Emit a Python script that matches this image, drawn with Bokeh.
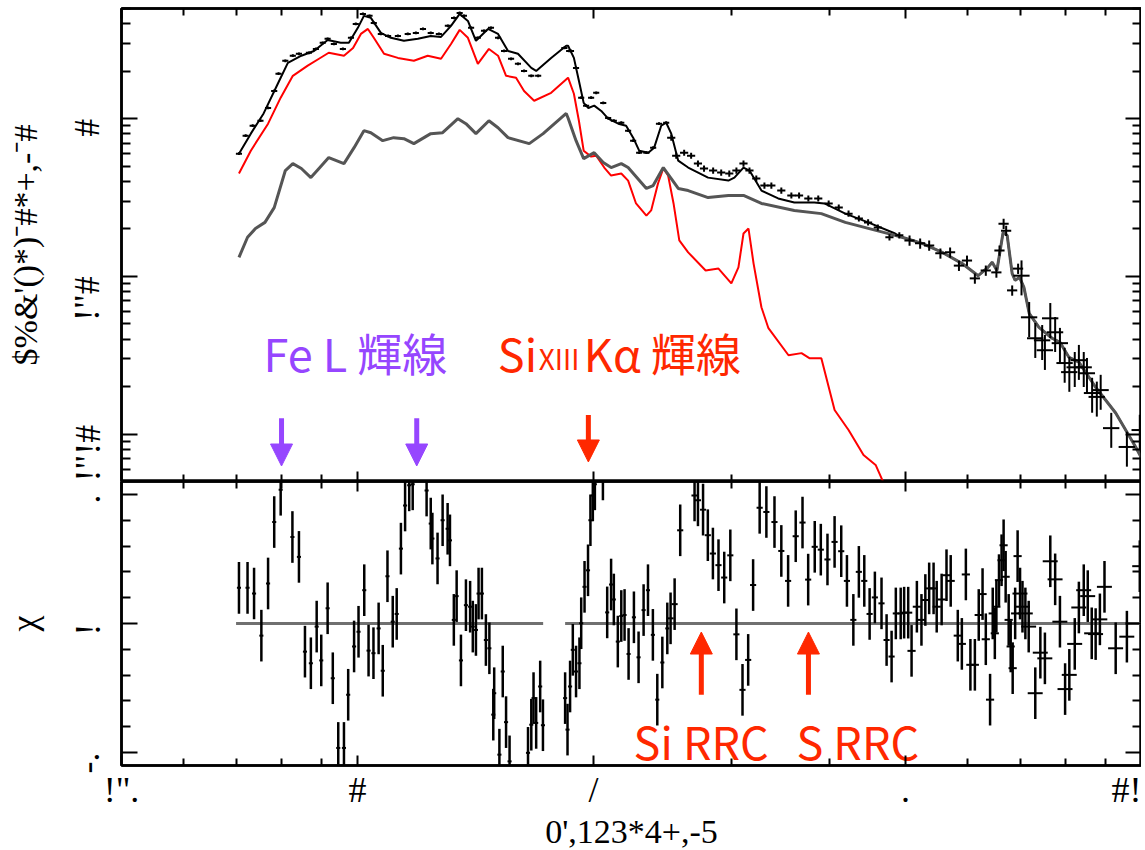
import numpy as np
from bokeh.plotting import figure
from bokeh.layouts import column
from bokeh.models import (FixedTicker, LogAxis, LinearAxis, Range1d, Arrow,
                          NormalHead, CustomJSTickFormatter)
from bokeh.core.properties import value
from bokeh.embed import file_html
from bokeh.resources import INLINE

SERIF = "Liberation Serif"
SANS = "Noto Sans CJK JP"
PURPLE = "#9646FF"
ORANGE = "#FF2800"

# ---------------- data (energy keV, flux) ----------------
total_soft = [(0.706,0.600),(0.731,0.804),(0.759,1.08),(0.791,1.66),(0.815,2.26),(0.848,2.51),
    (0.880,2.69),(0.916,3.16),(0.952,3.03),(0.975,3.03),(1.001,3.77),(1.019,4.49),(1.040,4.36),
    (1.071,3.50),(1.103,3.26),(1.146,3.12),(1.194,3.21),(1.240,3.35),(1.278,3.30),(1.316,3.88),
    (1.350,4.62),(1.383,4.17),(1.416,3.12),(1.467,3.71),(1.511,3.45),(1.556,2.69),(1.602,2.58),
    (1.666,2.10),(1.690,2.01),(1.766,2.43),(1.846,2.90),(1.856,2.90),(1.888,2.43),(1.916,1.74),
    (1.943,1.26),(1.970,1.17),(2.004,1.21),(2.046,1.12),(2.088,1.00),(2.151,0.930),(2.201,0.903),
    (2.247,0.758),(2.287,0.627),(2.349,0.609),(2.390,0.655),(2.440,0.903),(2.476,0.943),
    (2.513,0.804),(2.565,0.542),(2.641,0.490),(2.800,0.423),(2.972,0.405),(3.025,0.423),
    (3.107,0.490),(3.162,0.469),(3.275,0.350),(3.440,0.312),(3.607,0.294),(3.826,0.294),
    (3.940,0.290),(4.190,0.250),(4.480,0.220),(4.850,0.187)]

hard_shared = [(4.95,0.177),(5.25,0.162),(5.57,0.142),(5.90,0.121),(6.19,0.101),(6.37,0.114),
    (6.45,0.123),(6.54,0.109),(6.66,0.190),(6.74,0.182),(6.84,0.104),(6.90,0.0943),(6.99,0.0986),
    (7.08,0.0852),(7.19,0.0583),(7.40,0.0475),(7.69,0.0405),(7.87,0.0382),(8.08,0.0307),
    (8.32,0.0286),(8.74,0.0198),(9.27,0.0136),(9.83,0.00828),(10.0,0.00705)]

background_soft = [(0.706,0.132),(0.724,0.177),(0.741,0.201),(0.762,0.220),(0.783,0.273),
    (0.809,0.469),(0.827,0.519),(0.848,0.483),(0.872,0.423),(0.893,0.483),(0.919,0.567),
    (0.961,0.519),(0.990,0.655),(1.019,0.840),(1.040,0.815),(1.077,0.726),(1.112,0.758),
    (1.146,0.747),(1.180,0.695),(1.240,0.804),(1.284,0.815),(1.343,1.00),(1.375,0.930),
    (1.416,0.804),(1.471,0.971),(1.511,0.877),(1.556,0.758),(1.656,0.695),(1.725,0.804),
    (1.846,1.08),(1.856,1.01),(1.900,0.726),(1.943,0.558),(2.004,0.609),(2.058,0.527),
    (2.106,0.490),(2.170,0.519),(2.214,0.490),(2.336,0.361),(2.383,0.377),(2.455,0.490),
    (2.513,0.417),(2.565,0.361),(2.641,0.350),(2.800,0.316),(2.972,0.326),(3.107,0.326),
    (3.275,0.290),(3.607,0.262),(3.905,0.250),(4.190,0.220),(4.850,0.182)]

source = [(0.706,0.449),(0.731,0.627),(0.769,0.930),(0.798,1.36),(0.827,1.87),(0.864,2.17),
    (0.893,2.40),(0.919,2.62),(0.961,2.51),(0.987,2.81),(1.010,3.45),(1.031,3.71),(1.049,3.26),
    (1.081,2.58),(1.126,2.43),(1.180,2.33),(1.229,2.51),(1.278,2.40),(1.316,2.98),(1.350,3.66),
    (1.383,3.26),(1.424,2.23),(1.471,2.77),(1.511,2.51),(1.547,1.87),(1.593,1.82),(1.631,1.50),
    (1.680,1.30),(1.766,1.46),(1.856,1.82),(1.888,1.44),(1.916,0.971),(1.943,0.627),(1.986,0.575),
    (2.016,0.583),(2.064,0.490),(2.106,0.436),(2.170,0.449),(2.214,0.405),(2.266,0.290),
    (2.336,0.243),(2.369,0.262),(2.417,0.388),(2.455,0.483),(2.490,0.436),(2.530,0.290),
    (2.573,0.169),(2.641,0.142),(2.780,0.109),(2.887,0.112),(2.998,0.0903),(3.061,0.114),
    (3.107,0.187),(3.153,0.201),(3.200,0.121),(3.275,0.0637),(3.343,0.0469),(3.546,0.0316),
    (3.684,0.0326),(3.770,0.0303),(3.905,0.0303),(4.060,0.0142),(4.230,0.0106),(4.420,0.00736),
    (4.580,0.00637),(4.670,0.00512),(4.730,0.00442)]

spectrum = [(0.706,0.600),(0.720,0.781),(0.735,0.903),(0.752,0.971),(0.769,1.17),(0.783,1.50),
    (0.793,1.93),(0.809,2.33),(0.827,2.51),(0.842,2.58),(0.867,2.62),(0.885,2.77),(0.903,3.03),
    (0.916,3.21),(0.933,2.98),(0.958,2.77),(0.981,3.26),(0.995,3.99),(1.016,4.62),(1.036,4.49),
    (1.049,4.05),(1.071,3.45),(1.094,3.35),(1.126,3.35),(1.159,3.45),(1.187,3.50),(1.212,3.71),
    (1.240,3.50),(1.270,3.45),(1.304,3.88),(1.328,4.36),(1.350,4.69),(1.367,4.49),(1.396,3.77),
    (1.424,3.26),(1.450,3.61),(1.480,3.77),(1.511,3.26),(1.538,2.69),(1.570,2.40),(1.602,2.23),
    (1.631,2.01),(1.666,1.87),(1.700,1.87),
    (1.836,2.81),(1.862,2.69),(1.872,2.69),(1.900,2.10),(1.929,1.36),(1.957,1.21),(1.986,1.36),
    (2.016,1.46),(2.058,1.26),(2.088,1.01),(2.123,0.971),(2.170,0.943),(2.214,0.840),(2.247,0.726),
    (2.287,0.609),(2.336,0.609),(2.383,0.655),(2.424,0.930),(2.476,0.943),(2.513,0.758),
    (2.550,0.583),(2.610,0.609),(2.664,0.583),(2.718,0.519),(2.767,0.483),(2.842,0.469),
    (2.910,0.455),(2.980,0.449),(3.043,0.469),(3.107,0.519),(3.162,0.469),(3.226,0.417),
    (3.304,0.377),(3.372,0.377),(3.472,0.350),(3.576,0.326),(3.658,0.326),(3.759,0.312),
    (3.870,0.312),(3.990,0.290),(4.110,0.273),(4.230,0.250),(4.360,0.233),(4.480,0.220),
    (4.610,0.204),(4.770,0.177),(4.910,0.182),(5.060,0.169),(5.220,0.162),(5.360,0.157),
    (5.540,0.140),(5.700,0.142),(5.850,0.117),(5.990,0.126),(6.130,0.0971),(6.330,0.109),
    (6.530,0.106),(6.590,0.146),(6.670,0.216),(6.720,0.195),(6.840,0.0815),(6.960,0.112),
    (7.030,0.101),(7.190,0.0550),(7.320,0.0405),(7.470,0.0393),(7.530,0.0340),(7.650,0.0542),
    (7.760,0.0442),(7.870,0.0377),(7.980,0.0282),(8.090,0.0247),(8.220,0.0265),(8.320,0.0294),
    (8.440,0.0265),(8.520,0.0243),(8.650,0.0182),(8.770,0.0172),(8.870,0.0190),(9.150,0.0109),
    (9.580,0.00828),(9.950,0.0106)]

# error bar sizes (relative) by energy band
ERR_EDGES = [0.5, 2.5, 5.0, 7.0, 10.5]
SPEC_YREL = [0.02, 0.045, 0.075, 0.25]
SPEC_XREL = [0.009, 0.012, 0.015, 0.024]

residuals = [(0.706,1.38),(0.724,1.38),(0.738,1.16),(0.754,-0.47),(0.769,1.55),(0.783,3.93),
    (0.798,5.18),(0.826,3.35),(0.842,2.58),(0.857,-1.09),(0.872,-1.54),(0.887,-0.12),(0.899,-1.43),
    (0.916,0.59),(0.930,-2.12),(0.945,-4.82),(0.961,-4.82),(0.973,-2.76),(0.990,-0.89),(1.003,-0.32),
    (1.020,1.29),(1.033,-1.05),(1.048,-1.15),(1.064,-0.19),(1.077,-1.83),(1.092,1.83),(1.109,0.07),
    (1.122,0.37),(1.136,2.90),(1.150,4.57),(1.164,5.35),(1.176,5.39),(1.225,5.15),(1.240,3.87),
    (1.246,3.29),(1.265,2.52),(1.284,4.00),(1.303,3.67),(1.312,3.22),(1.327,0.14),(1.338,1.06),
    (1.355,-1.43),(1.375,0.71),(1.392,0.65),(1.403,-0.12),(1.416,-0.25),(1.427,1.16),(1.441,1.16),
    (1.458,-0.64),(1.473,-0.96),(1.490,-3.53),(1.494,-2.70),(1.517,-5.08),(1.532,-1.86),
    (1.547,-3.82),(1.563,-5.34),(1.650,-5.01),(1.666,-3.92),(1.677,-2.89),(1.690,-3.85),
    (1.710,-2.44),(1.724,-3.94),
    (1.840,-2.89),(1.853,-4.11),(1.867,-2.44),(1.882,-1.02),(1.900,-1.86),(1.919,-1.54),
    (1.929,0.01),(1.948,1.42),(1.968,2.06),(1.982,4.00),(1.996,4.96),(2.008,5.39),(2.056,5.77),
    (2.082,0.43),(2.106,1.51),(2.123,0.93),(2.148,-0.70),(2.170,0.29),(2.191,0.33),(2.217,-1.18),
    (2.252,0.24),(2.283,-1.31),(2.317,0.52),(2.347,1.29),(2.381,-0.44),(2.412,-2.95),(2.448,-1.51),
    (2.484,-0.19),(2.508,0.20),(2.538,0.75),(2.580,3.61),(2.691,4.96),(2.718,4.77),(2.759,4.41),
    (2.798,3.42),(2.840,2.71),(2.887,2.26),(2.936,1.78),(2.989,2.64),(3.043,-0.42),(3.098,-2.57),
    (3.150,-1.41),(3.196,1.49),(3.258,4.48),(3.323,4.32),(3.403,3.93),(3.472,2.81),(3.542,1.65),
    (3.622,3.38),(3.695,3.91),(3.757,1.70),(3.830,2.97),(3.899,2.86),(3.976,2.48),(4.06,3.16),
    (4.14,2.80),(4.21,1.65),(4.29,0.14),(4.36,2.00),(4.43,1.65),(4.50,0.37),(4.57,1.01),(4.66,0.78),
    (4.73,-0.64),(4.80,-1.28),(4.86,0.39),(4.93,0.39),(4.98,0.42),(5.04,0.42),(5.09,-1.06),
    (5.17,0.65),(5.24,0.14),(5.30,0.91),(5.36,1.36),(5.43,1.36),(5.48,0.65),(5.56,0.93),(5.64,1.87),
    (5.71,1.65),(5.83,-0.47),(5.90,-0.79),(5.97,1.90),(6.05,-1.60),(6.13,-1.60),(6.20,0.33),
    (6.27,1.14),(6.33,-0.61),(6.41,-2.95),(6.46,0.39),(6.50,-0.38),(6.53,0.65),(6.58,1.68),
    (6.63,2.45),(6.67,3.03),(6.71,1.81),(6.77,0.14),(6.81,-0.89),(6.85,-1.73),(6.90,0.39),
    (6.95,2.61),(7.00,1.16),(7.05,0.65),(7.11,0.39),(7.18,-0.12),(7.32,-2.70),(7.43,-1.13),
    (7.53,-1.35),(7.65,2.41),(7.76,1.71),(7.87,0.07),(7.99,-2.54),(8.09,-1.99),(8.22,-0.79),
    (8.32,0.62),(8.44,1.29),(8.54,1.06),(8.64,-0.38),(8.74,-0.41),(8.85,0.16),(8.97,1.42),
    (9.27,-0.96),(9.58,-0.51),(9.95,2.22)]
RES_SIGMA = 1.0
RES_XREL = [0.006, 0.009, 0.012, 0.022]

zero_segments = [(0.70, 1.725), (1.84, 10.0)]

# ticks and titles
X_TICKS = [0.5, 1, 2, 5, 10]
X_TICK_LABELS = ['!".', '#', '/', '.', '#!']
X_MINOR = [0.6, 0.7, 0.8, 0.9, 3, 4, 6, 7, 8, 9]
Y1_TICKS = [0.01, 0.1, 1]
Y1_TICK_LABELS = ['!"!#', '!"#', '#']
Y1_MINOR = [0.005, 0.006, 0.007, 0.008, 0.009, 0.02, 0.03, 0.04, 0.05, 0.06, 0.07, 0.08, 0.09,
            0.2, 0.3, 0.4, 0.5, 0.6, 0.7, 0.8, 0.9, 2, 3, 4, 5]
Y2_TICKS = [-5, 0, 5]
Y2_TICK_LABELS = ['-.', '!', '.']
Y2_MINOR = [-4, -3, -2, -1, 1, 2, 3, 4]
X_TITLE = "0',123*4+,-5"
Y1_TITLE = "$%&'()*)⁻#*+,-⁻#"
Y2_TITLE = "χ"

# annotations
FE_L_LINES = [0.80, 1.19]
SI_LINE = [1.97]
RRC_LINES = [2.745, 3.76]


def unzip(pairs):
    a = np.array(pairs, dtype=float)
    return a[:, 0], a[:, 1]


def band(E, edges, vals):
    idx = np.clip(np.digitize(E, edges) - 1, 0, len(vals) - 1)
    return np.asarray(vals)[idx]


def fmt(ticks, labels):
    return CustomJSTickFormatter(args=dict(t=ticks, l=labels), code="""
        for (let i = 0; i < t.length; i++) {
            if (Math.abs(tick - t[i]) <= 1e-6 * Math.max(1, Math.abs(t[i]))) return l[i];
        }
        return "";
    """)


def style_axis(ax, ticks, minor, tin, min_in, labels=None, size="32px", standoff=10, orient=None):
    ax.ticker = FixedTicker(ticks=ticks, minor_ticks=minor)
    ax.axis_line_color = "black"
    ax.axis_line_width = 2.5
    ax.major_tick_line_color = "black"
    ax.major_tick_line_width = 2
    ax.minor_tick_line_color = "black"
    ax.minor_tick_line_width = 2
    ax.major_tick_in = tin
    ax.major_tick_out = 0
    ax.minor_tick_in = min_in
    ax.minor_tick_out = 0
    if labels is None:
        ax.formatter = fmt(ticks, [""] * len(ticks))
        ax.major_label_text_font_size = "0px"
        ax.major_label_standoff = 0
    else:
        ax.formatter = fmt(ticks, labels)
        ax.major_label_text_font = SERIF
        ax.major_label_text_font_size = size
        ax.major_label_text_color = "black"
        ax.major_label_standoff = standoff
        if orient is not None:
            ax.major_label_orientation = orient


def style_title(ax, text, size, standoff):
    ax.axis_label = text
    ax.axis_label_text_font = SERIF
    ax.axis_label_text_font_size = size
    ax.axis_label_text_font_style = "normal"
    ax.axis_label_text_color = "black"
    ax.axis_label_standoff = standoff


def new_fig(top, **kw):
    p = figure(frame_width=1020, min_border_left=121, min_border_right=0, min_border_top=top,
               min_border_bottom=0, output_backend="svg", toolbar_location=None, **kw)
    p.xgrid.grid_line_color = None
    p.ygrid.grid_line_color = None
    p.outline_line_color = "black"
    p.outline_line_width = 2.5
    p.background_fill_color = "white"
    p.border_fill_color = "white"
    return p


# ---------------- upper panel ----------------
x_range = Range1d(0.5, 10)
p1 = new_fig(8, x_axis_type="log", y_axis_type="log", x_range=x_range,
             y_range=Range1d(0.005, 5), frame_height=473)

style_axis(p1.below[0], X_TICKS, X_MINOR, 10, 7)
style_axis(p1.left[0], Y1_TICKS, Y1_MINOR, 16, 9, labels=Y1_TICK_LABELS, size="36px",
           standoff=34, orient=np.pi / 2)
style_title(p1.left[0], Y1_TITLE, "34px", 1)
top1 = LogAxis()
right1 = LogAxis()
p1.add_layout(top1, "above")
p1.add_layout(right1, "right")
style_axis(top1, X_TICKS, X_MINOR, 10, 7)
style_axis(right1, Y1_TICKS, Y1_MINOR, 16, 9)

tE, tF = unzip(total_soft + hard_shared)
bE, bF = unzip(background_soft + hard_shared)
sE, sF = unzip(source)
dE, dF = unzip(spectrum)

p1.line(tE, tF, line_color="black", line_width=2)
p1.line(sE, sF, line_color="#FF0000", line_width=2)
p1.line(bE, bF, line_color="#555555", line_width=3)

yrel = band(dE, ERR_EDGES, SPEC_YREL)
xrel = band(dE, ERR_EDGES, SPEC_XREL)
p1.segment(dE * (1 - xrel), dF, dE * (1 + xrel), dF, line_color="black", line_width=2)
p1.segment(dE, dF * (1 - yrel), dE, dF * (1 + yrel), line_color="black", line_width=2)

# annotations upper
TXT_Y = 0.033
p1.text(x=[0.759], y=[TXT_Y], text=["Fe L 輝線"], text_font=value(SANS),
        text_font_size="45px", text_color=PURPLE, text_align="left", text_baseline="middle")
p1.text(x=[1.51], y=[TXT_Y], text=["Si"], text_font=value(SANS),
        text_font_size="45px", text_color=ORANGE, text_align="left", text_baseline="middle")
p1.text(x=[1.51], y=[TXT_Y], text=["XIII"], x_offset=41, y_offset=6, text_font=value(SANS),
        text_font_size="28px", text_color=ORANGE, text_align="left", text_baseline="middle")
p1.text(x=[1.51], y=[TXT_Y], text=["Kα 輝線"], x_offset=86, text_font=value(SANS),
        text_font_size="45px", text_color=ORANGE, text_align="left", text_baseline="middle")
for e in FE_L_LINES:
    p1.add_layout(Arrow(end=NormalHead(size=22, fill_color=PURPLE, line_color=PURPLE),
                        x_start=e, y_start=0.0126, x_end=e, y_end=0.00627,
                        line_color=PURPLE, line_width=5))
for e in SI_LINE:
    p1.add_layout(Arrow(end=NormalHead(size=22, fill_color=ORANGE, line_color=ORANGE),
                        x_start=e, y_start=0.0132, x_end=e, y_end=0.00665,
                        line_color=ORANGE, line_width=5))

# ---------------- lower panel ----------------
p2 = new_fig(0, x_axis_type="log", x_range=x_range, y_range=Range1d(-5.5, 5.5), frame_height=284)
style_axis(p2.below[0], X_TICKS, X_MINOR, 10, 7, labels=X_TICK_LABELS, size="36px", standoff=4)
style_title(p2.below[0], X_TITLE, "34px", 0)
style_axis(p2.left[0], Y2_TICKS, Y2_MINOR, 16, 9, labels=Y2_TICK_LABELS, size="36px",
           standoff=34, orient=np.pi / 2)
style_title(p2.left[0], Y2_TITLE, "36px", 1)
top2 = LogAxis()
right2 = LinearAxis()
p2.add_layout(top2, "above")
p2.add_layout(right2, "right")
style_axis(top2, X_TICKS, X_MINOR, 10, 7)
style_axis(right2, Y2_TICKS, Y2_MINOR, 16, 9)

p2.multi_line(xs=[list(s) for s in zero_segments], ys=[[0, 0] for _ in zero_segments],
              line_color="#707070", line_width=3)

rE, rC = unzip(residuals)
rx = band(rE, ERR_EDGES, RES_XREL)
p2.segment(rE, rC - RES_SIGMA, rE, rC + RES_SIGMA, line_color="black", line_width=2.5)
p2.segment(rE * (1 - rx), rC, rE * (1 + rx), rC, line_color="black", line_width=2)

p2.text(x=[2.25, 3.63], y=[-4.54, -4.54], text=["Si RRC", "S RRC"], text_font=value(SANS),
        text_font_size="45px", text_color=ORANGE, text_align="left", text_baseline="middle")
for e in RRC_LINES:
    p2.add_layout(Arrow(end=NormalHead(size=22, fill_color=ORANGE, line_color=ORANGE),
                        x_start=e, y_start=-2.76, x_end=e, y_end=-0.33,
                        line_color=ORANGE, line_width=5))

layout = column(p1, p2, spacing=0)
open("out.html", "w").write(file_html(layout, INLINE))
